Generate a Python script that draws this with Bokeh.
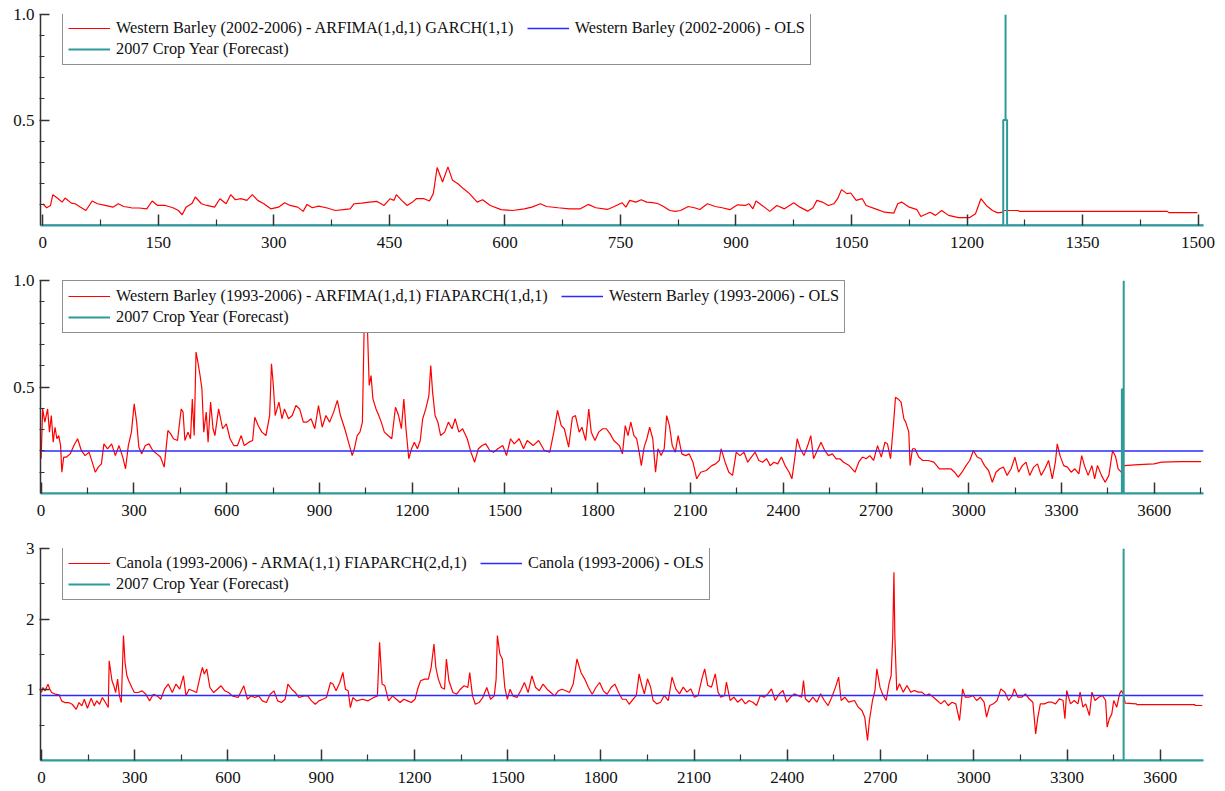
from bokeh.plotting import figure
from bokeh.layouts import column
from bokeh.models import Range1d, FixedTicker, Legend, LegendItem, PrintfTickFormatter
from bokeh.embed import file_html
from bokeh.resources import INLINE

# ---------------- data ----------------
# Panel 1: Western Barley (2002-2006)
p1_days = [0, 5, 10, 13, 20, 25, 29, 37, 42, 49, 56, 64, 71, 81, 91, 98, 105, 115, 125, 135,
           142, 149, 159, 169, 176, 181, 186, 194, 198, 206, 213, 223, 230, 238, 244, 250, 257, 265, 272, 279,
           287, 296, 306, 314, 321, 331, 338, 343, 350, 358, 368, 380, 390, 399, 404, 414, 424, 434, 443, 451,
           456, 459, 466, 473, 480, 485, 495, 502, 507, 512, 519, 526, 532, 539, 546, 554, 564, 571, 581, 595,
           610, 625, 635, 646, 654, 669, 684, 698, 708, 718, 733, 742, 752, 757, 762, 770, 777, 784, 792, 799,
           806, 814, 821, 828, 838, 846, 853, 863, 873, 882, 892, 902, 912, 917, 922, 926, 934, 944, 953, 963,
           975, 983, 993, 1000, 1005, 1012, 1020, 1027, 1032, 1037, 1044, 1049, 1056, 1064, 1069, 1081, 1093, 1105, 1110, 1115,
           1125, 1135, 1140, 1152, 1159, 1167, 1176, 1189, 1203, 1211, 1218, 1225, 1233, 1240, 1246]
p1_vol = [.103, .084, .095, .146, .127, .111, .130, .106, .103, .087, .071, .116, .103, .095, .087, .103, .090, .084, .083, .079,
          .116, .095, .095, .084, .071, .051, .087, .106, .135, .103, .095, .087, .127, .103, .146, .122, .127, .119, .146, .119,
          .103, .079, .087, .108, .095, .087, .067, .100, .084, .092, .084, .071, .075, .079, .103, .106, .111, .114, .095, .127,
          .119, .146, .119, .095, .111, .127, .127, .116, .151, .275, .206, .278, .214, .198, .175, .151, .111, .122, .095, .075,
          .071, .079, .087, .103, .090, .084, .079, .079, .100, .084, .076, .090, .108, .087, .119, .111, .122, .111, .108, .103,
          .090, .071, .067, .071, .090, .084, .076, .103, .090, .084, .075, .098, .095, .103, .079, .116, .095, .067, .095, .079,
          .108, .087, .068, .084, .119, .111, .095, .103, .127, .170, .151, .154, .119, .127, .095, .079, .063, .059, .103, .111,
          .087, .075, .043, .063, .048, .071, .048, .037, .037, .056, .127, .095, .071, .060, .063]
p1_fc_days = [1247, 1266, 1268, 1460, 1462, 1499]
p1_fc_vol = [.071, .071, .067, .067, .061, .061]
p1_ols = 0.0
p1_t_days = [0, 1247, 1247, 1250, 1250, 1250, 1252, 1252, 1507]
p1_t_vals = [0, 0, 0.5, 0.5, 1.0, 0.5, 0.5, 0, 0]

# Panel 2: Western Barley (1993-2006)
p2_days = [0, 5, 12, 21, 27, 33, 39, 45, 51, 57,
           63, 67, 73, 82, 94, 106, 118, 130, 142, 155,
           167, 175, 185, 195, 203, 215, 228, 240, 252, 264,
           273, 282, 292, 301, 309, 316, 325, 337, 349, 361,
           374, 386, 398, 410, 419, 428, 441, 453, 459, 465,
           475, 483, 489, 495, 501, 507, 514, 520, 526, 534,
           540, 548, 556, 562, 574, 587, 599, 611, 623, 635,
           647, 657, 672, 684, 691, 702, 714, 727, 739, 745,
           751, 757, 769, 779, 787, 800, 812, 824, 836, 848,
           860, 873, 885, 897, 909, 921, 933, 946, 958, 968,
           982, 994, 1006, 1013, 1022, 1031, 1039, 1047, 1052, 1056,
           1061, 1067, 1073, 1083, 1092, 1100, 1110, 1122, 1134, 1146,
           1156, 1165, 1173, 1180, 1189, 1198, 1207, 1217, 1226, 1234,
           1244, 1254, 1260, 1266, 1274, 1283, 1292, 1305, 1317, 1329,
           1339, 1351, 1363, 1378, 1390, 1402, 1414, 1426, 1438, 1451,
           1463, 1477, 1493, 1505, 1518, 1530, 1546, 1560, 1572, 1591,
           1609, 1627, 1645, 1658, 1670, 1682, 1692, 1706, 1718, 1728,
           1740, 1749, 1761, 1771, 1779, 1791, 1803, 1816, 1828, 1840,
           1852, 1870, 1880, 1889, 1898,
           1907, 1917, 1926, 1934, 1941, 1950, 1959, 1968, 1978, 1987,
           1995, 2005, 2015, 2023, 2032, 2041, 2051, 2060, 2072, 2084,
           2096, 2108, 2120, 2133, 2151, 2169, 2181, 2193, 2199, 2212,
           2224, 2236, 2248, 2260, 2273, 2285, 2297, 2309, 2321, 2333,
           2346, 2358, 2370, 2382, 2394, 2406, 2419, 2428, 2437, 2445,
           2455, 2467, 2479, 2489, 2498, 2510, 2522, 2534, 2546, 2559,
           2571, 2583, 2595, 2613, 2632, 2644, 2656, 2668, 2680, 2692,
           2705, 2717, 2729, 2737, 2747, 2757, 2763, 2771, 2781, 2790,
           2796, 2806, 2810, 2818, 2826, 2838, 2851, 2869, 2887, 2905,
           2924, 2942, 2954, 2966, 2978, 2991, 3003, 3015, 3027, 3039,
           3051, 3064, 3076, 3088, 3100, 3112, 3124, 3137, 3149, 3161,
           3173, 3185, 3197, 3210, 3222, 3234, 3246, 3258, 3270, 3280,
           3286, 3295, 3307, 3319, 3331, 3343, 3356, 3365, 3374, 3386,
           3398, 3407, 3416, 3429, 3441, 3453, 3465, 3475, 3483, 3493]
p2_vol = [.163, .397, .335, .397, .288, .366, .241, .311, .257, .272,
          .225, .100, .171, .171, .186, .225, .257, .202, .178, .194,
          .139, .100, .124, .139, .233, .210, .233, .178, .225, .171,
          .116, .225, .288, .421, .335, .218, .186, .225, .233, .202,
          .186, .171, .124, .296, .280, .257, .249, .397, .382, .249,
          .288, .257, .444, .272, .664, .617, .554, .491, .288, .382,
          .241, .429, .304, .272, .397, .304, .327, .257, .225, .225,
          .272, .225, .241, .249, .358, .319, .288, .272, .366, .609,
          .507, .366, .429, .351, .397, .351, .366, .413, .397, .335,
          .335, .351, .304, .413, .311, .366, .335, .382, .437, .366,
          .304, .241, .178, .210, .272, .288, .335, .961, .977, .742,
          .507, .554, .444, .397, .366, .335, .288, .272, .257, .405,
          .366, .304, .444, .304, .163, .210, .241, .210, .249, .351,
          .397, .460, .601, .476, .366, .335, .272, .288, .335, .304,
          .351, .288, .304, .257, .194, .147, .210, .225, .233, .202,
          .194, .210, .225, .178, .257, .233, .257, .210, .249, .225,
          .249, .202, .194, .288, .390, .319, .304, .218, .358, .366,
          .288, .311, .249, .397, .288, .249, .288, .304, .304, .280,
          .249, .225, .186, .319, .272,
          .335, .272, .257, .194, .131, .218, .257, .311, .257, .100,
          .210, .178, .210, .366, .319, .225, .194, .272, .186, .178,
          .186, .147, .069, .100, .108, .131, .139, .155, .210, .147,
          .100, .085, .194, .178, .194, .147, .171, .194, .155, .147,
          .163, .131, .147, .139, .171, .131, .100, .069, .163, .257,
          .210, .178, .225, .272, .163, .202, .241, .202, .178, .186,
          .163, .163, .147, .131, .100, .147, .171, .163, .178, .155,
          .225, .171, .241, .233, .163, .335, .452, .444, .429, .351,
          .335, .288, .131, .210, .210, .171, .155, .155, .147, .116,
          .116, .116, .100, .077, .100, .131, .155, .202, .171, .163,
          .131, .108, .053, .100, .116, .124, .085, .116, .171, .100,
          .131, .147, .085, .124, .139, .085, .116, .155, .069, .147,
          .233, .178, .131, .124, .100, .116, .092, .178, .131, .085,
          .131, .069, .131, .085, .053, .085, .202, .171, .116, .100]
p2_fc_days = [3502, 3550, 3599, 3623, 3684, 3751]
p2_fc_vol = [.131, .136, .139, .147, .150, .150]
p2_ols = 0.2
p2_t_days = [0, 3495, 3495, 3501, 3501, 3501, 3759]
p2_t_vals = [0, 0, 0.49, 0.49, 1.0, 0, 0]

# Panel 3: Canola (1993-2006)
p3_days = [0, 5, 12, 21, 27, 33, 45, 57, 65, 75,
           87, 99, 112, 121, 130, 138, 148, 160, 170, 178,
           187, 196, 206, 215, 218, 227, 233, 239, 245, 251,
           257, 264, 269, 275, 281, 291, 299, 311, 324, 336,
           348, 360, 372, 384, 396, 408, 421, 433, 445, 457,
           465, 475, 487, 499, 511, 518, 524, 532, 542, 554,
           566, 578, 590, 602, 614, 633, 651, 663, 675, 687,
           699, 711, 724, 736, 748, 760, 772, 784, 793, 805,
           817, 829, 845, 857, 869, 881, 893, 905, 917, 930,
           938, 948, 960, 970, 978, 987, 994, 1002, 1014, 1033,
           1051, 1069, 1081, 1088, 1096, 1105, 1117, 1130, 1142, 1154,
           1166, 1178, 1190, 1202, 1212, 1220, 1233, 1245, 1254, 1263,
           1269, 1277, 1287, 1297, 1303, 1311, 1324, 1336, 1348, 1360,
           1372, 1378, 1387, 1396, 1408, 1420, 1433, 1445, 1457, 1463,
           1467, 1475, 1483, 1491, 1499, 1508, 1517, 1530, 1542, 1554,
           1566, 1578, 1590, 1602, 1614, 1627, 1639, 1651, 1663, 1675,
           1687, 1699, 1711, 1723, 1736, 1748, 1760, 1772, 1784, 1796,
           1808, 1820, 1833, 1845, 1857, 1869, 1881, 1891,
           1914, 1923, 1932, 1940, 1950, 1960, 1968, 1980, 1992, 2004,
           2017, 2029, 2041, 2053, 2065, 2077, 2089, 2101, 2113, 2125,
           2134, 2144, 2156, 2168, 2177, 2186, 2198, 2204, 2216, 2228,
           2240, 2253, 2265, 2277, 2289, 2301, 2313, 2325, 2337, 2349,
           2361, 2374, 2386, 2398, 2410, 2422, 2434, 2446, 2452, 2458,
           2470, 2482, 2495, 2507, 2519, 2531, 2543, 2555, 2565, 2573,
           2585, 2597, 2616, 2628, 2640, 2649, 2658, 2664, 2674, 2682,
           2688, 2698, 2706, 2718, 2727, 2734, 2739, 2743, 2746, 2752,
           2761, 2773, 2785, 2797, 2809, 2821, 2833, 2845, 2857, 2870,
           2882, 2894, 2906, 2918, 2930, 2942, 2954, 2964, 2972, 2985,
           2997, 3009, 3021, 3033, 3041, 3051, 3063, 3075, 3087, 3100,
           3112, 3124, 3130, 3142, 3154, 3166, 3178, 3190, 3199, 3206,
           3214, 3227, 3239, 3251, 3263, 3275, 3287, 3293, 3299, 3311,
           3323, 3335, 3342, 3351, 3360, 3372, 3380, 3390, 3402, 3414,
           3424, 3429, 3436, 3444, 3450, 3460, 3469, 3475, 3481]
p3_vol = [.962, 1.033, .986, 1.081, 1.009, .962, .938, .929, .844, .820,
          .820, .796, .725, .820, .773, .867, .739, .882, .773, .844,
          .796, .891, .820, .749, 1.412, 1.128, 1.057, .962, 1.152, .915,
          .820, 1.768, 1.389, 1.199, 1.128, 1.033, .962, .962, .986, .938,
          .844, .938, .915, .867, 1.009, 1.081, .962, 1.081, 1.009, 1.199,
          .915, 1.009, .986, .962, 1.199, 1.318, 1.223, 1.294, 1.033, .962,
          1.009, 1.057, .986, .962, .915, .891, 1.057, .867, .915, .891,
          .915, .844, .820, .938, .986, .844, .820, .867, 1.081, 1.009,
          .962, .891, .915, .915, .844, .796, .844, .867, .891, 1.104,
          1.081, .986, 1.104, 1.246, 1.009, .986, .749, .891, .844, .867,
          .844, .891, .915, 1.673, 1.081, 1.057, .844, .915, .867, .820,
          .867, .844, .820, .867, 1.033, 1.128, 1.152, 1.152, 1.318, 1.649,
          1.318, 1.152, 1.033, 1.009, 1.436, 1.128, .962, .938, 1.009, 1.057,
          1.033, 1.246, .915, .796, .820, .891, 1.033, .867, .915, 1.152,
          1.768, 1.507, 1.436, 1.033, .867, 1.009, .915, .891, .986, 1.104,
          .962, 1.199, 1.033, .986, 1.081, 1.009, .962, .915, .986, 1.009,
          .986, .962, 1.081, 1.436, 1.246, 1.152, 1.033, .938, 1.033, 1.104,
          .986, .938, 1.033, 1.081, .962, .867, .867, .796,
          .920, 1.226, 1.061, .943, 1.156, 1.038, .849, .802, .825, .920,
          .849, 1.179, 1.014, .943, 1.038, .967, 1.014, .896, .920, 1.156,
          1.297, 1.061, 1.038, 1.226, .967, .896, .920, 1.108, .849, .896,
          .825, .873, .802, .849, .825, .778, .920, .896, .943, 1.014,
          .849, .943, .991, .825, .896, .943, .920, .896, 1.132, .873,
          .825, .896, .825, .943, .849, .778, .896, 1.038, 1.179, .849,
          .896, .825, .849, .755, .708, .613, .283, .566, .849, .991,
          1.297, 1.038, .943, .849, 1.085, 1.203, 1.745, 2.665, 1.745, .991,
          1.085, .967, 1.061, .967, .991, .967, .967, .920, .943, .896,
          .849, .802, .849, .778, .825, .802, .566, 1.014, .896, .896,
          .920, .849, .896, .825, .613, .778, .802, .849, 1.014, .967,
          .849, .920, 1.014, .896, .896, .943, .873, .825, .377, .613,
          .802, .802, .825, .825, .802, .873, .849, .590, .991, .802,
          .849, .802, .967, .755, .802, .637, .967, .849, .896, .920,
          .849, .472, .590, .660, .849, .755, .943, .991, .943]
p3_fc_days = [3487, 3523, 3525, 3710, 3713, 3735]
p3_fc_vol = [.811, .802, .792, .792, .778, .778]
p3_ols = 0.92
p3_t_days = [0, 3482, 3482, 3482, 3739]
p3_t_vals = [0, 0, 3.0, 0, 0]

p1_labels = ["Western Barley (2002-2006) - ARFIMA(1,d,1) GARCH(1,1)",
             "Western Barley (2002-2006) - OLS", "2007 Crop Year (Forecast)"]
p2_labels = ["Western Barley (1993-2006) - ARFIMA(1,d,1) FIAPARCH(1,d,1)",
             "Western Barley (1993-2006) - OLS", "2007 Crop Year (Forecast)"]
p3_labels = ["Canola (1993-2006) - ARMA(1,1) FIAPARCH(2,d,1)",
             "Canola (1993-2006) - OLS", "2007 Crop Year (Forecast)"]

p1_xticks = [0, 150, 300, 450, 600, 750, 900, 1050, 1200, 1350, 1500]
p1_xminor = [75, 225, 375, 525, 675, 825, 975, 1125, 1275, 1425]
p23_xticks = [0, 300, 600, 900, 1200, 1500, 1800, 2100, 2400, 2700, 3000, 3300, 3600]
p23_xminor = [150, 450, 750, 1050, 1350, 1650, 1950, 2250, 2550, 2850, 3150, 3450, 3750]
p12_yticks = [0.5, 1.0]
p12_yminor = [0.1, 0.2, 0.3, 0.4, 0.6, 0.7, 0.8, 0.9]
p3_yticks = [1, 2, 3]
p3_yminor = [0.5, 1.5, 2.5]

# ---------------- style ----------------
RED = "#ff0000"
BLUE = "#2b2bff"
TEAL = "#2f9a9a"
AXIS = "#333333"
FONT = "Liberation Serif"
COL_GAP = "   "   # visual gap between the two legend columns


def make_panel(frame_h, border_top, border_bottom, x_rng, y_end, xt, xm, yt, ym, yfmt,
               days, vol, fc_days, fc_vol, ols, t_days, t_vals, labels):
    p = figure(frame_width=1163, frame_height=frame_h,
               min_border_left=40, min_border_right=20, min_border_top=border_top,
               min_border_bottom=border_bottom,
               x_range=Range1d(*x_rng), y_range=Range1d(0, y_end),
               output_backend="svg", toolbar_location=None,
               background_fill_color="white", border_fill_color="white")
    p.grid.visible = False
    p.outline_line_color = None

    r_red = p.line(days + fc_days, vol + fc_vol, line_color=RED, line_width=1.2)
    r_blue = p.line([days[0], x_rng[1]], [ols, ols], line_color=BLUE, line_width=1.5)
    r_teal = p.line(t_days, t_vals, line_color=TEAL, line_width=2)

    xa = p.xaxis[0]
    xa.ticker = FixedTicker(ticks=xt, minor_ticks=xm)
    xa.major_tick_in = 11
    xa.major_tick_out = 0
    xa.minor_tick_in = 6
    xa.minor_tick_out = 0
    xa.major_label_standoff = 11
    xa.axis_line_color = TEAL
    xa.axis_line_width = 2
    xa.major_tick_line_color = AXIS
    xa.minor_tick_line_color = AXIS
    xa.major_tick_line_width = 1.5
    xa.minor_tick_line_width = 1.2

    ya = p.yaxis[0]
    ya.ticker = FixedTicker(ticks=yt, minor_ticks=ym)
    ya.formatter = PrintfTickFormatter(format=yfmt)
    ya.major_tick_in = 9
    ya.major_tick_out = 1
    ya.minor_tick_in = 4
    ya.minor_tick_out = 1
    ya.major_label_standoff = 5
    ya.axis_line_color = AXIS
    ya.axis_line_width = 1.5
    ya.major_tick_line_color = AXIS
    ya.minor_tick_line_color = AXIS
    ya.major_tick_line_width = 1.5
    ya.minor_tick_line_width = 1.2

    for ax in (xa, ya):
        ax.major_label_text_font = FONT
        ax.major_label_text_font_size = "17px"
        ax.major_label_text_color = "#111111"

    legend = Legend(items=[LegendItem(label=labels[0] + COL_GAP, renderers=[r_red]),
                           LegendItem(label=labels[1], renderers=[r_blue]),
                           LegendItem(label=labels[2], renderers=[r_teal])],
                    location=(22, 160), orientation="horizontal", ncols=2,
                    label_text_font=FONT, label_text_font_size="16.3px",
                    label_text_color="#111111",
                    label_height=20, glyph_height=20, glyph_width=42,
                    label_standoff=6, padding=5, spacing=1, margin=0,
                    border_line_color="#222222", border_line_width=1.5,
                    background_fill_color="white", background_fill_alpha=1.0)
    p.add_layout(legend)
    return p


p1 = make_panel(211, 14, 45, (-3, 1507), 1.0, p1_xticks, p1_xminor, p12_yticks, p12_yminor, "%.1f",
                p1_days, p1_vol, p1_fc_days, p1_fc_vol, p1_ols, p1_t_days, p1_t_vals, p1_labels)
p2 = make_panel(213, 10, 45, (-2, 3759), 1.0, p23_xticks, p23_xminor, p12_yticks, p12_yminor, "%.1f",
                p2_days, p2_vol, p2_fc_days, p2_fc_vol, p2_ols, p2_t_days, p2_t_vals, p2_labels)
p3 = make_panel(212, 10, 27, (-3, 3739), 3.0, p23_xticks, p23_xminor, p3_yticks, p3_yminor, "%d",
                p3_days, p3_vol, p3_fc_days, p3_fc_vol, p3_ols, p3_t_days, p3_t_vals, p3_labels)

layout = column(p1, p2, p3)
open("out.html", "w").write(file_html(layout, INLINE))
